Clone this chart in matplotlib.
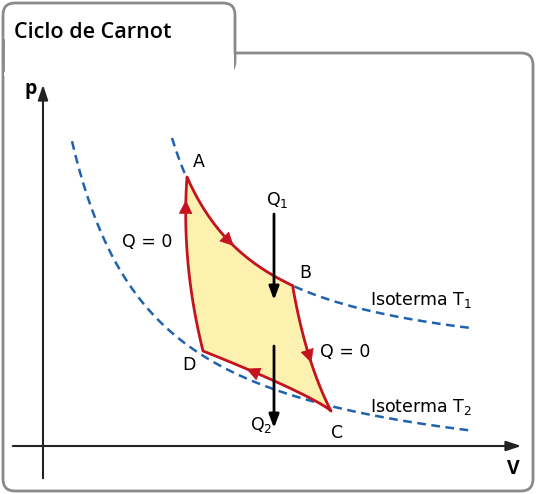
import numpy as np
import matplotlib.pyplot as plt
from matplotlib.patches import FancyBboxPatch, Polygon

# cycle corner points (pixel space of the reference figure)
corner_names = ["A", "B", "C", "D"]
corner_x = [187, 293, 331, 203]
corner_y = [177, 288, 411, 351]

# isotherm parameters: y = c - k / (x - x0)
iso1 = dict(x0=100, k=16980, c=373.8, xs=172, xe=470)
iso2 = dict(x0=-10, k=28600, c=490.0, xs=72, xe=470)

yellow = "#fdf1b0"
red = "#c4121f"
blue = "#1f62ad"
gray = "#8a8a8a"

fig = plt.figure(figsize=(5.36, 4.94), dpi=100)
ax = fig.add_axes([0, 0, 1, 1])
ax.set_xlim(0, 536)
ax.set_ylim(494, 0)
ax.axis("off")

# frame
ax.add_patch(FancyBboxPatch((3, 53), 530, 438, boxstyle="round,pad=0,rounding_size=12",
                            fc="white", ec=gray, lw=2, zorder=1))
ax.add_patch(FancyBboxPatch((3, 3), 232, 70, boxstyle="round,pad=0,rounding_size=12",
                            fc="white", ec=gray, lw=2, zorder=1))
ax.add_patch(plt.Rectangle((4.2, 54.2), 229.6, 22, fc="white", ec="none", zorder=1.5))
ax.plot([3, 3], [40, 70], color=gray, lw=2, zorder=1.6)
ax.text(14, 32, "Ciclo de Carnot", fontsize=15.5, fontweight="semibold", va="center",
        family="Open Sans")


def iso(p, x):
    return p["c"] - p["k"] / (x - p["x0"])


# dashed isotherms
for p in (iso1, iso2):
    xx = np.linspace(p["xs"], p["xe"], 200)
    ax.plot(xx, iso(p, xx), ls=(0, (3.5, 2.2)), color=blue, lw=1.8, zorder=2)

# cycle outline
A, B, C, D = [np.array([x, y]) for x, y in zip(corner_x, corner_y)]
xab = np.linspace(A[0], B[0], 60)
ab = np.column_stack([xab, iso(iso1, xab) + (A[1] - iso(iso1, A[0])) * (1 - (xab - A[0]) / (B[0] - A[0]))])
t = np.linspace(0, 1, 60)
bulge_bc = np.array([306, 362])
bc = ((1 - t) ** 2)[:, None] * B + (2 * t * (1 - t))[:, None] * bulge_bc + (t ** 2)[:, None] * C
xcd = np.linspace(C[0], D[0], 60)
cd = np.column_stack([xcd, C[1] + (D[1] - C[1]) * ((C[0] - xcd) / (C[0] - D[0])) ** 0.85])
bulge_da = np.array([181, 262])
da = ((1 - t) ** 2)[:, None] * D + (2 * t * (1 - t))[:, None] * bulge_da + (t ** 2)[:, None] * A
path = np.vstack([ab, bc, cd, da])
ax.add_patch(Polygon(path, closed=True, fc=yellow, ec=red, lw=2, joinstyle="round", zorder=3))


def red_arrow(seg, i):
    p0, p1 = seg[i - 1], seg[i + 1]
    ax.annotate("", xy=p1, xytext=p0, zorder=4,
                arrowprops=dict(arrowstyle="-|>,head_length=0.9,head_width=0.45",
                                color=red, lw=0.5, shrinkA=0, shrinkB=0))


red_arrow(ab, 25)
red_arrow(bc, 32)
red_arrow(cd, 38)
red_arrow(da, 50)

# heat arrows
for y0, y1 in ((214, 300), (346, 428)):
    ax.annotate("", xy=(274, y1), xytext=(274, y0), zorder=5,
                arrowprops=dict(arrowstyle="-|>,head_length=0.8,head_width=0.3",
                                color="black", lw=2, shrinkA=0, shrinkB=0))

# axes
ax.annotate("", xy=(43, 82), xytext=(43, 481),
            arrowprops=dict(arrowstyle="-|>,head_length=0.9,head_width=0.3", color="#222", lw=1.5))
ax.annotate("", xy=(524, 446), xytext=(10, 446),
            arrowprops=dict(arrowstyle="-|>,head_length=0.9,head_width=0.3", color="#222", lw=1.5))

fs = 12.5
ax.text(24, 89, "p", fontsize=14, fontweight="bold", va="center", family="Open Sans")
ax.text(507, 469, "V", fontsize=14, fontweight="bold", va="center", family="Open Sans")
for i, (dx, dy) in enumerate([(12, -15), (12, -15), (6, 22), (-14, 14)]):
    ax.text(corner_x[i] + dx, corner_y[i] + dy, corner_names[i], fontsize=fs,
            ha="center", va="center")
ax.text(266, 200, "Q$_1$", fontsize=fs, va="center")
ax.text(250, 425, "Q$_2$", fontsize=fs, va="center")
ax.text(122, 242, "Q = 0", fontsize=fs, va="center")
ax.text(320, 352, "Q = 0", fontsize=fs, va="center")
ax.text(370, 300, "Isoterma T$_1$", fontsize=fs, va="center")
ax.text(370, 407, "Isoterma T$_2$", fontsize=fs, va="center")

fig.savefig("out.png", dpi=100)
